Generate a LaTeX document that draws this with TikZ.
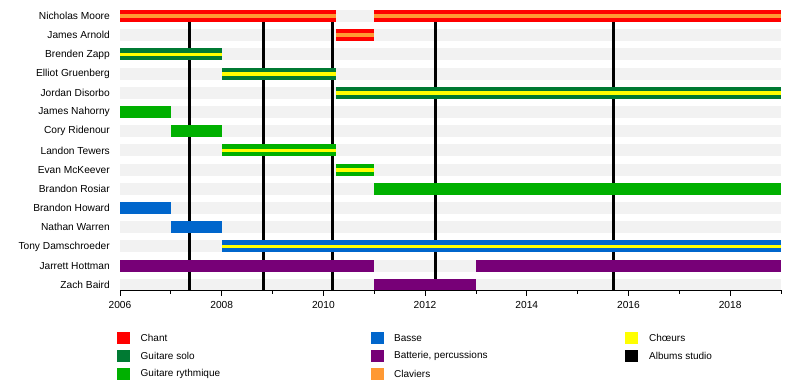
\documentclass[tikz,border=0pt]{standalone}
\usepackage{fontspec}
\setmainfont{Liberation Sans}
\definecolor{cChant}{HTML}{FF0000}
\definecolor{cSolo}{HTML}{007A33}
\definecolor{cRyth}{HTML}{00B000}
\definecolor{cBasse}{HTML}{0066CC}
\definecolor{cBatt}{HTML}{770077}
\definecolor{cClav}{HTML}{FF9933}
\definecolor{cChoeur}{HTML}{FFFF00}
\definecolor{cGrid}{HTML}{F2F2F2}
\newcommand\tlbar[4]{\fill[#4] ({120+(#2)*50.846},{16+19.2*(#1)-6}) rectangle ({120+(#3)*50.846},{16+19.2*(#1)+6});}
\newcommand\tlstripe[4]{\fill[#4] ({120+(#2)*50.846},{16+19.2*(#1)-1.9}) rectangle ({120+(#3)*50.846},{16+19.2*(#1)+1.9});}
\newcommand\tlalbum[1]{\draw[albumline] ({120+(#1)*50.846},10) -- ({120+(#1)*50.846},290);}
\tikzset{
  namelabel/.style={anchor=east, font=\fontsize{10.2}{12}\selectfont, inner sep=0pt},
  yearlabel/.style={anchor=center, font=\fontsize{10.2}{12}\selectfont, inner sep=0pt},
  legendlabel/.style={anchor=west, font=\fontsize{10}{12}\selectfont, inner sep=0pt},
  albumline/.style={line width=3pt, black},
}
\begin{document}
\begin{tikzpicture}[x=1pt,y=-1pt]
\useasboundingbox (0,0) rectangle (800,380);
\fill[white] (0,0) rectangle (800,380);
% grey background rows
\foreach \r in {0,...,14} {\tlbar{\r}{0}{13}{cGrid}}
% names
\foreach \n [count=\i from 0] in {Nicholas Moore,James Arnold,Brenden Zapp,Elliot Gruenberg,Jordan Disorbo,James Nahorny,Cory Ridenour,Landon Tewers,Evan McKeever,Brandon Rosiar,Brandon Howard,Nathan Warren,Tony Damschroeder,Jarrett Hottman,Zach Baird}
  {\node[namelabel] at (110,{16+19.2*\i}) {\n};}
% album lines
\tlalbum{1.357}
\tlalbum{2.818}
\tlalbum{4.175}
\tlalbum{6.214}
\tlalbum{9.715}
% bars
\tlbar{0}{0}{4.25}{cChant}\tlstripe{0}{0}{4.25}{cClav}
\tlbar{0}{5}{13}{cChant}\tlstripe{0}{5}{13}{cClav}
\tlbar{1}{4.25}{5}{cChant}\tlstripe{1}{4.25}{5}{cClav}
\tlbar{2}{0}{2}{cSolo}\tlstripe{2}{0}{2}{cChoeur}
\tlbar{3}{2}{4.25}{cSolo}\tlstripe{3}{2}{4.25}{cChoeur}
\tlbar{4}{4.25}{13}{cSolo}\tlstripe{4}{4.25}{13}{cChoeur}
\tlbar{5}{0}{1}{cRyth}
\tlbar{6}{1}{2}{cRyth}
\tlbar{7}{2}{4.25}{cRyth}\tlstripe{7}{2}{4.25}{cChoeur}
\tlbar{8}{4.25}{5}{cRyth}\tlstripe{8}{4.25}{5}{cChoeur}
\tlbar{9}{5}{13}{cRyth}
\tlbar{10}{0}{1}{cBasse}
\tlbar{11}{1}{2}{cBasse}
\tlbar{12}{2}{13}{cBasse}\tlstripe{12}{2}{13}{cChoeur}
\tlbar{13}{0}{5}{cBatt}
\tlbar{13}{7}{13}{cBatt}
\tlbar{14}{5}{7}{cBatt}
% axis
\draw[black, line width=0.8pt] (120,290.5) -- (781,290.5);
\foreach \t in {0,2,...,12} {\draw[black, line width=0.8pt] ({120+\t*50.846},290) -- ({120+\t*50.846},295.5);}
\foreach \t in {1,3,...,13} {\draw[black, line width=0.8pt] ({120+\t*50.846},290) -- ({120+\t*50.846},293.5);}
\foreach \t in {0,2,...,12} {\pgfmathtruncatemacro\yr{2006+\t}\node[yearlabel] at ({120+\t*50.846},305) {\yr};}
% legend
\fill[cChant] (117,332) rectangle (130,344); \node[legendlabel] at (140.5,338) {Chant};
\fill[cSolo] (117,350) rectangle (130,362); \node[legendlabel] at (140.5,356) {Guitare solo};
\fill[cRyth] (117,368) rectangle (130,380); \node[legendlabel] at (140.5,374) {Guitare rythmique};
\fill[cBasse] (371,332) rectangle (384,344); \node[legendlabel] at (394,338) {Basse};
\fill[cBatt] (371,350) rectangle (384,362); \node[legendlabel] at (394,356) {Batterie, percussions};
\fill[cClav] (371,368) rectangle (384,380); \node[legendlabel] at (394,374) {Claviers};
\fill[cChoeur] (625,332) rectangle (638,344); \node[legendlabel] at (649,338) {Chœurs};
\fill[black] (625,350) rectangle (638,362); \node[legendlabel] at (649,356) {Albums studio};
\end{tikzpicture}
\end{document}
